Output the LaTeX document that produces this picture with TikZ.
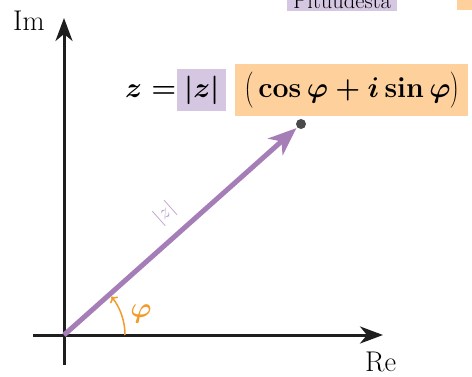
\RequirePackage{fix-cm}
\documentclass[tikz,border=0pt]{standalone}
\usetikzlibrary{arrows.meta}
\definecolor{vecpurple}{HTML}{A57EB8}
\definecolor{boxpurple}{HTML}{D5C6E1}
\definecolor{boxorange}{HTML}{FDD09C}
\definecolor{angorange}{HTML}{F29B2A}
\definecolor{labpurple}{HTML}{B798C9}
\definecolor{axisblack}{HTML}{1E1E1E}
\definecolor{dotgray}{HTML}{4A4A4A}
\begin{document}
\begin{tikzpicture}[x=1pt,y=-1pt,
  bigfont/.style={font=\fontsize{28.5}{34}\selectfont},
  boldfont/.style={font=\fontsize{28.5}{34}\selectfont\boldmath},
  axisline/.style={line width=3pt, draw=axisblack, -{Stealth[length=23pt,width=17pt,inset=7pt]}},
  vectorline/.style={line width=5pt, draw=vecpurple, -{Stealth[length=28pt,width=22pt,inset=8pt]}, shorten >=1pt},
  anglearc/.style={line width=1.5pt, draw=angorange, -{To[length=5pt,width=10pt]}},
  purplebox/.style={fill=boxpurple},
  orangebox/.style={fill=boxorange}]
\useasboundingbox (0,0) rectangle (472,376);
\clip (0,0) rectangle (472,376);
% legend (clipped at top)
\node[font=\fontsize{22.5}{27}\selectfont, purplebox, anchor=base west, inner xsep=6pt, inner ysep=2.5pt, text depth=0pt] (leg1) at (287,8) {Pituudesta};
\node[orangebox, anchor=south west, minimum width=40pt, minimum height=30pt, inner sep=0] (leg2) at (457,10) {};
% axes
\coordinate (O) at (64,335);
\coordinate (xs) at (33,335);
\coordinate (xe) at (383,335);
\coordinate (ys) at (64,365);
\coordinate (ye) at (64,18);
\draw[axisline] (xs) -- (xe);
\draw[axisline] (ys) -- (ye);
\node[bigfont, anchor=base west, inner sep=0] (im) at (13,30) {Im};
\node[bigfont, anchor=base west, inner sep=0] (re) at (365,371) {Re};
% point and vector
\node[circle, fill=dotgray, minimum size=10pt, inner sep=0] (P) at (301,124) {};
\draw[vectorline] (O) -- node[sloped, above=8pt, pos=0.5, font=\fontsize{20}{24}\selectfont, text=labpurple] (lab) {$|z|$} (P);
% angle
\coordinate (A0) at (125,335);
\draw[anglearc] (A0) arc (0:39:61pt);
\node[boldfont, text=angorange] (phi) at (141,314) {$\varphi$};
% formula
\node[boldfont, anchor=base west, inner sep=0] (zeq) at (125,97) {$z=$};
\node[boldfont, purplebox, anchor=base west, inner xsep=7pt, inner ysep=7pt] (absz) at (177,97) {$|z|$};
\node[boldfont, orangebox, anchor=base west, inner xsep=9pt, inner ysep=8pt] (polar) at (235,97) {$\left(\rule[-0.35em]{0pt}{1.2em}\cos\varphi+i\sin\varphi\right)$};
\end{tikzpicture}
\end{document}
